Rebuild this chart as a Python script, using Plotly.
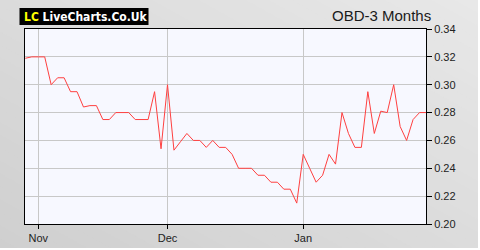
import plotly.graph_objects as go

# ---- data ----
prices = [0.319, 0.32, 0.32, 0.32, 0.30, 0.305, 0.305, 0.295, 0.295, 0.284,
          0.285, 0.285, 0.275, 0.275, 0.28, 0.28, 0.28, 0.275, 0.275, 0.275,
          0.295, 0.254, 0.30, 0.253, 0.259, 0.265, 0.26, 0.26, 0.255, 0.26,
          0.255, 0.255, 0.25, 0.24, 0.24, 0.24, 0.235, 0.235, 0.23, 0.23,
          0.225, 0.225, 0.215, 0.25, 0.24, 0.23, 0.235, 0.25, 0.243, 0.28,
          0.265, 0.255, 0.255, 0.295, 0.265, 0.281, 0.28, 0.30, 0.27, 0.26,
          0.275, 0.28, 0.28]
session = list(range(len(prices)))          # trading-session index
month_tick_positions = [2, 22, 43]
month_tick_labels = ["Nov", "Dec", "Jan"]
y_ticks = [0.20, 0.22, 0.24, 0.26, 0.28, 0.30, 0.32, 0.34]
title_text = "OBD-3 Months"

# ---- geometry helpers (pixel -> paper) ----
W, H = 480, 250
ML, MR, MT, MB = 25, 54, 29, 26
PW, PH = W - ML - MR, H - MT - MB


def px(x):
    return (x - ML) / PW


def py(y):
    return (H - MB - y) / PH


shapes = []
# diagonal grey gradient background panel
n = 40
umax = W + 1.8 * H
dark = (0xCF, 0xCF, 0xCF)
light = (0xE8, 0xE8, 0xE8)
for i in range(n):
    c1 = umax * i / n - 2
    c2 = umax * (i + 1) / n + 2
    t = (i + 0.5) / n
    col = tuple(int(round(dark[k] + (light[k] - dark[k]) * t)) for k in range(3))
    ya, yb = -20, H + 20
    pts = [(c1 - 1.8 * (H - ya), ya), (c2 - 1.8 * (H - ya), ya),
           (c2 - 1.8 * (H - yb), yb), (c1 - 1.8 * (H - yb), yb)]
    path = "M " + " L ".join(f"{px(a):.5f},{py(b):.5f}" for a, b in pts) + " Z"
    shapes.append(dict(type="path", xref="paper", yref="paper", path=path,
                       fillcolor="rgb(%d,%d,%d)" % col, line=dict(width=0),
                       layer="below"))
# white outside the rounded panel (right and bottom edges)
shapes.append(dict(type="rect", xref="paper", yref="paper",
                   x0=px(478), x1=px(490), y0=py(-10), y1=py(260),
                   fillcolor="white", line=dict(width=0), layer="below"))
shapes.append(dict(type="rect", xref="paper", yref="paper",
                   x0=px(-10), x1=px(490), y0=py(260), y1=py(248),
                   fillcolor="white", line=dict(width=0), layer="below"))
# plot area background
shapes.append(dict(type="rect", xref="paper", yref="paper",
                   x0=0, x1=1, y0=0, y1=1,
                   fillcolor="#F7F8FF", line=dict(width=0), layer="below"))
# logo black box
shapes.append(dict(type="rect", xref="paper", yref="paper",
                   x0=px(19.5), x1=px(148.5), y0=py(25), y1=py(8),
                   fillcolor="black", line=dict(width=0), layer="below"))

fig = go.Figure()
fig.add_trace(go.Scatter(x=session, y=prices, mode="lines",
                         line=dict(color="#FF4040", width=1),
                         hoverinfo="skip", showlegend=False))

fig.update_layout(
    width=W, height=H,
    autosize=False,
    margin=dict(l=ML, r=MR, t=MT, b=MB, pad=0, autoexpand=False),
    paper_bgcolor="white",
    plot_bgcolor="#F7F8FF",
    font=dict(family="Liberation Sans, Arial, sans-serif", size=11, color="#222222"),
    shapes=shapes,
    annotations=[
        dict(xref="paper", yref="paper", x=px(22), y=py(16.5),
             xanchor="left", yanchor="middle", showarrow=False,
             text="<b><span style='color:#FFFF00'>LC</span> LiveCharts.Co.Uk</b>",
             font=dict(family="DejaVu Sans Condensed, DejaVu Sans", size=12,
                       color="white")),
        dict(xref="paper", yref="paper", x=px(433), y=py(15),
             xanchor="right", yanchor="middle", showarrow=False,
             text=title_text,
             font=dict(family="Liberation Sans, Arial", size=15, color="#1a1a1a")),
    ],
)
fig.update_xaxes(range=[-0.05, len(prices) - 1], tickvals=month_tick_positions,
                 ticktext=month_tick_labels, ticks="outside", ticklen=4,
                 tickcolor="black", showline=True, linecolor="black", linewidth=1,
                 mirror=True, showgrid=True, gridcolor="#C8C8C8", gridwidth=1,
                 zeroline=False, automargin=False,
                 tickfont=dict(size=11, color="#222222"))
fig.update_yaxes(range=[0.20, 0.34], tickvals=y_ticks, tickformat=".2f",
                 side="right", ticks="outside", ticklen=5, tickcolor="black",
                 showline=True, linecolor="black", linewidth=1, mirror=True,
                 showgrid=True, gridcolor="#C8C8C8", gridwidth=1, zeroline=False,
                 automargin=False, tickfont=dict(size=11, color="#222222"))

fig.write_html("out.html")
